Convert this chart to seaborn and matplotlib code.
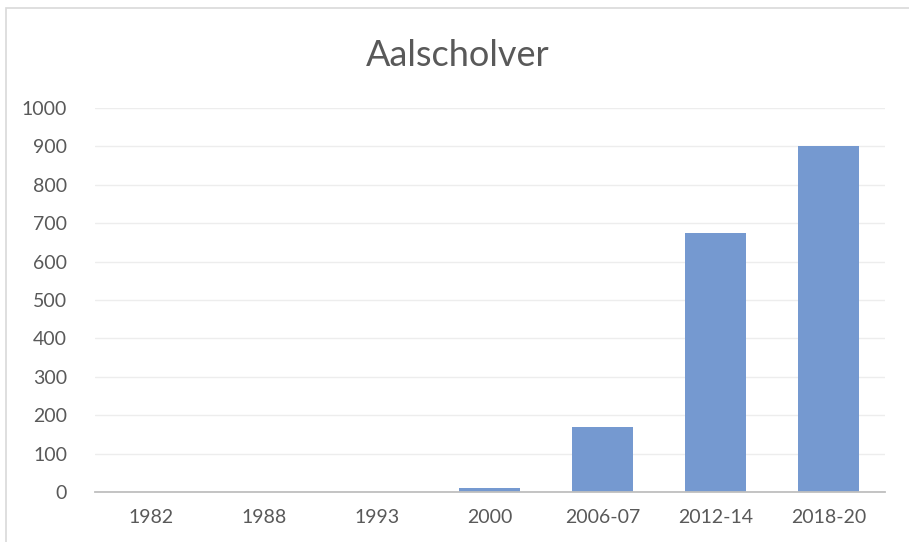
import pandas as pd
import matplotlib.pyplot as plt
import seaborn as sns
from matplotlib.patches import Rectangle

# data
periods = ['1982', '1988', '1993', '2000', '2006-07', '2012-14', '2018-20']
counts = [0, 0, 0, 10, 170, 675, 900]

df = pd.DataFrame({'periode': periods, 'aantal': counts})

sns.set_style('white')
plt.rcParams['font.family'] = ['Lato', 'DejaVu Sans']

fig = plt.figure(figsize=(9.09, 5.42), dpi=100)
ax = fig.add_axes([0.1045, 0.0923, 0.869, 0.7084])

sns.barplot(data=df, x='periode', y='aantal', color='#7599D0',
            saturation=1, width=0.54, linewidth=0, ax=ax, zorder=3)

ax.set_ylim(0, 1000)
ax.set_yticks(range(0, 1001, 100))
ax.set_xlim(-0.5, len(periods) - 0.5)
ax.grid(axis='y', color='#EDEDED', linewidth=1, zorder=0)
ax.grid(axis='x', visible=False)
for s in ['top', 'right', 'left']:
    ax.spines[s].set_visible(False)
ax.spines['bottom'].set_color('#BFBFBF')
ax.spines['bottom'].set_linewidth(1.3)
ax.spines['bottom'].set_zorder(4)
ax.tick_params(axis='both', length=0, labelsize=14, labelcolor='#595959')
ax.tick_params(axis='y', pad=20)
ax.tick_params(axis='x', pad=12)
ax.set_xlabel('')
ax.set_ylabel('')

fig.text(0.503, 0.897, 'Aalscholver', ha='center', va='center',
         fontsize=26, color='#595959')

# chart frame
fig.patches.append(Rectangle((6 / 909, -0.1), 1.2, 1.1 - 8 / 542,
                             transform=fig.transFigure, fill=False,
                             edgecolor='#D9D9D9', linewidth=1.2))

fig.savefig('out.png', dpi=100)
